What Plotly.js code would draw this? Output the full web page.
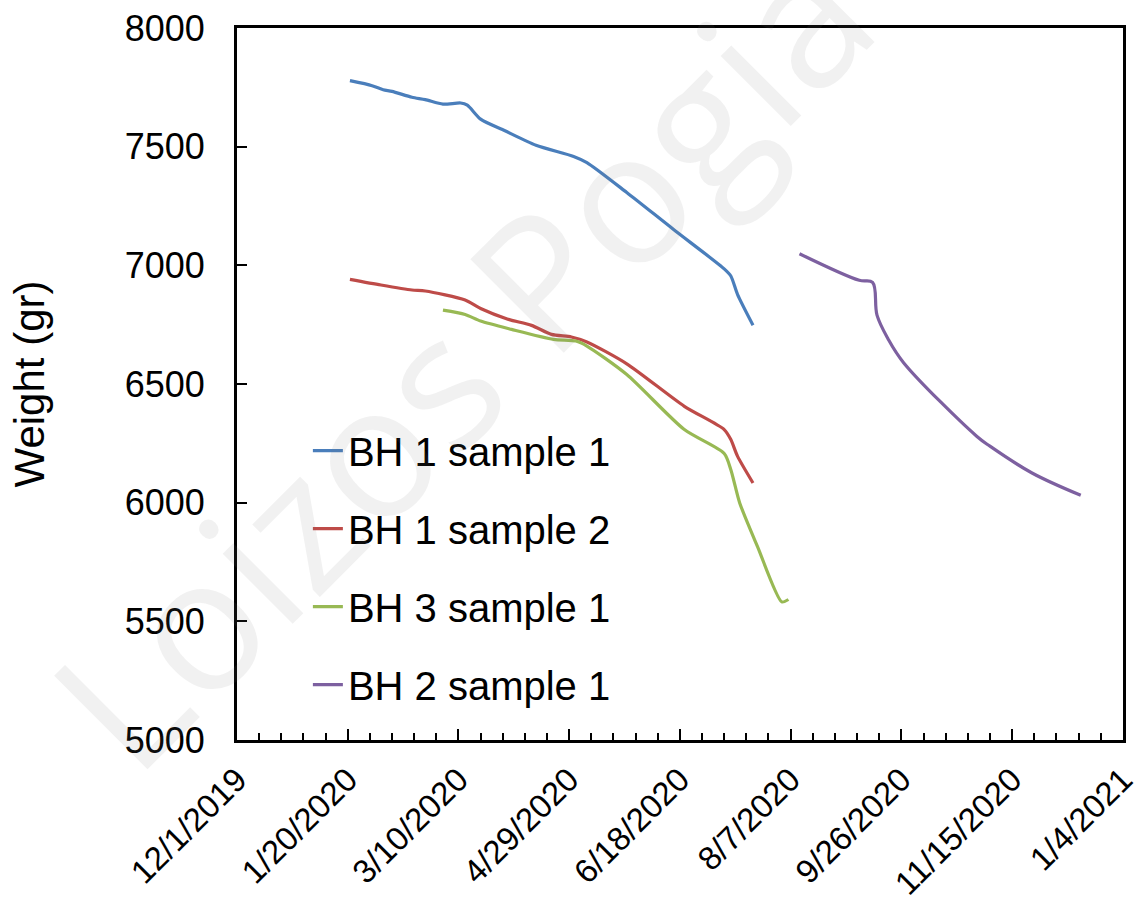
<!DOCTYPE html>
<html>
<head>
<meta charset="utf-8">
<script src="https://cdn.plot.ly/plotly-3.0.1.min.js"></script>
<style>
  html, body { margin: 0; padding: 0; background: #ffffff; }
  #chart { width: 1139px; height: 910px; }
</style>
</head>
<body>
<div id="chart"></div>
<script>
// ---- Data ----
var seriesNames = ["BH 1 sample 1", "BH 1 sample 2", "BH 3 sample 1", "BH 2 sample 1"];
var seriesColors = ["#4a7ebb", "#be4b48", "#98b954", "#7d60a0"];

var bh1s1Dates = ["2020-01-21","2020-01-31","2020-02-05","2020-02-09","2020-02-18","2020-02-24","2020-03-03","2020-03-11","2020-03-14","2020-03-20","2020-03-31","2020-04-14","2020-05-01","2020-05-07","2020-05-25","2020-06-15","2020-07-08","2020-07-11","2020-07-14","2020-07-21"];
var bh1s1Weight = [7778,7757,7740,7733,7708,7698,7679,7684,7675,7616,7567,7506,7459,7433,7307,7152,6985,6955,6878,6748];

var bh1s2Dates = ["2020-01-21","2020-02-04","2020-02-18","2020-02-24","2020-03-13","2020-03-20","2020-04-01","2020-04-12","2020-04-21","2020-04-30","2020-05-07","2020-05-25","2020-06-20","2020-07-08","2020-07-11","2020-07-14","2020-07-21"];
var bh1s2Weight = [6941,6917,6896,6892,6854,6818,6774,6747,6709,6698,6677,6585,6406,6308,6266,6196,6083];

var bh3s1Dates = ["2020-03-03","2020-03-13","2020-03-20","2020-04-03","2020-04-22","2020-05-02","2020-05-07","2020-05-25","2020-06-20","2020-07-08","2020-07-11","2020-07-15","2020-07-23","2020-08-03","2020-08-06"];
var bh3s1Weight = [6811,6793,6765,6730,6688,6681,6660,6540,6308,6207,6139,5999,5816,5582,5592];

var bh2s1Dates = ["2020-08-11","2020-09-07","2020-09-13","2020-09-15","2020-09-20","2020-09-27","2020-10-30","2020-11-05","2020-11-24","2020-12-16"];
var bh2s1Weight = [7049,6937,6928,6790,6690,6590,6280,6238,6125,6031];

var xRange = ["2019-12-01", "2021-01-04 02:00"];
var xTick0 = "2019-12-01";
var yRange = [5000, 8000];
var yTitle = "Weight (gr)";
var watermarkText = "Loizos Pogia";

var DAY = 86400000;

var allX = [bh1s1Dates, bh1s2Dates, bh3s1Dates, bh2s1Dates];
var allY = [bh1s1Weight, bh1s2Weight, bh3s1Weight, bh2s1Weight];
var smooth = [0.7, 0.7, 0.7, 1.0];

var traces = allX.map(function (xs, i) {
  return {
    type: "scatter",
    mode: "lines",
    name: seriesNames[i],
    legendgroup: "g" + i,
    x: xs,
    y: allY[i],
    line: { color: seriesColors[i], width: 3.2, shape: "spline", smoothing: smooth[i] }
  };
});

var FONT = "Liberation Sans, Arial, sans-serif";

var layout = {
  width: 1139,
  height: 910,
  paper_bgcolor: "#ffffff",
  plot_bgcolor: "rgba(0,0,0,0)",
  margin: { l: 237, r: 16, t: 28, b: 170, pad: 0 },
  font: { family: FONT, color: "#000000", size: 35 },
  showlegend: true,
  legend: {
    x: 0.08, y: 0.452, xanchor: "left", yanchor: "top",
    bgcolor: "rgba(0,0,0,0)",
    font: { family: FONT, size: 40, color: "#000000" },
    tracegroupgap: 23,
    itemwidth: 30
  },
  xaxis: {
    type: "date",
    range: xRange,
    tick0: xTick0,
    dtick: 50 * DAY,
    tickformat: "%-m/%-d/%Y",
    tickangle: -45,
    ticks: "inside",
    ticklen: 11,
    tickwidth: 2,
    tickcolor: "#000000",
    minor: { ticks: "inside", dtick: 10 * DAY, tick0: xTick0, ticklen: 7, tickwidth: 2, tickcolor: "#000000", showgrid: false },
    showline: true, linecolor: "#000000", linewidth: 3, mirror: true,
    showgrid: false, zeroline: false,
    tickfont: { family: FONT, size: 33, color: "#000000" },
    ticklabelstandoff: 4,
    ticklabeloverflow: "allow",
    automargin: false
  },
  yaxis: {
    range: yRange,
    dtick: 500,
    ticks: "inside",
    ticklen: 10,
    tickwidth: 2,
    tickcolor: "#000000",
    showline: true, linecolor: "#000000", linewidth: 3, mirror: true,
    showgrid: false, zeroline: false,
    tickfont: { family: FONT, size: 36, color: "#000000" },
    ticklabelstandoff: 22,
    title: { text: yTitle, font: { family: FONT, size: 42, color: "#000000" }, standoff: 68 },
    automargin: false
  },
  annotations: [{
    xref: "paper", yref: "paper",
    x: 0.25, y: 0.54,
    xanchor: "center", yanchor: "middle",
    text: watermarkText,
    showarrow: false,
    textangle: -45,
    font: { family: "Open Sans, sans-serif", size: 185, color: "rgba(120,120,120,0.1)" }
  }]
};

Plotly.newPlot("chart", traces, layout, { staticPlot: true, displayModeBar: false });
</script>
</body>
</html>
